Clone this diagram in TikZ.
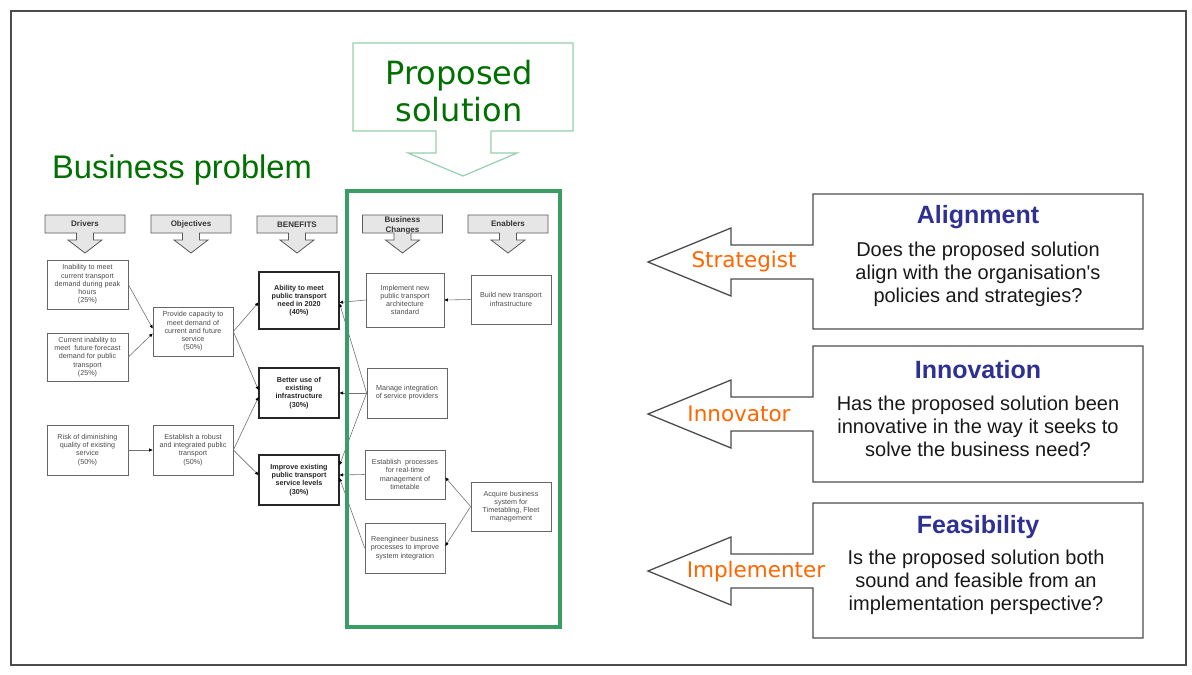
\documentclass[tikz,border=0pt]{standalone}
\usepackage{fontspec}
\setmainfont{Liberation Sans}
\newfontfamily\dejavu{DejaVu Sans}
\usetikzlibrary{arrows.meta,calc}
\definecolor{dkgreen}{RGB}{0,112,0}
\definecolor{boxgreen}{RGB}{58,158,100}
\definecolor{lightgreen}{RGB}{150,208,175}
\definecolor{navytitle}{RGB}{46,49,146}
\definecolor{rolered}{RGB}{255,102,0}
\definecolor{hdrgray}{RGB}{230,230,230}
\newcommand{\HdrShape}[2]{%
  \draw[hdrshape] ({#1-40},#2) -- ({#1+40},#2) -- ({#1+40},233) -- ({#1+8.5},233) -- ({#1+8.5},240) -- ({#1+17},240) -- (#1,253) -- ({#1-17},240) -- ({#1-8.5},240) -- ({#1-8.5},233) -- ({#1-40},233) -- cycle;}
\newcommand{\RoleShape}[3]{%
  \draw[roleshape] (813,#1) -- (1143,#1) -- (1143,#2) -- (813,#2) -- (813,{#3+17}) -- (731,{#3+17}) -- (731,{#3+34}) -- (648,#3) -- (731,{#3-34}) -- (731,{#3-17}) -- (813,{#3-17}) -- cycle;}
\begin{document}
\begin{tikzpicture}[x=1pt,y=-1pt,
  hdrshape/.style={draw=black!65, fill=hdrgray, line width=0.8pt},
  hdrtext/.style={inner sep=0pt, align=center, text=black!80, font=\bfseries\fontsize{8}{9}\selectfont},
  box/.style={draw=black!60, line width=0.7pt, fill=white, inner sep=0pt, align=center, text=black!70, font=\fontsize{7.2}{8.2}\selectfont},
  bbox/.style={box, draw=black!85, line width=1.1pt, text=black!85, font=\bfseries\fontsize{7.2}{8.2}\selectfont},
  conn/.style={draw=black!55, line width=0.6pt, -{Triangle[length=3.5pt,width=3pt,color=black]}},
  roleshape/.style={draw=black!70, line width=1.3pt, fill=white, line join=miter},
  roletitle/.style={inner sep=0pt, text=navytitle, font=\bfseries\fontsize{25}{28}\selectfont},
  rolebody/.style={inner sep=0pt, align=center, text=black!90, font=\fontsize{20}{23}\selectfont},
  rolelabel/.style={inner sep=0pt, text=rolered, font=\dejavu\fontsize{21.5}{24}\selectfont}
]
\useasboundingbox (0,0) rectangle (1192,675);
\fill[white] (0,0) rectangle (1192,675);
\draw[black!70, line width=1.2pt] (11,11) rectangle (1186,665);

% Titles
\node[inner sep=0pt, text=dkgreen, font=\fontsize{32.7}{36}\selectfont] (bp) at (182,170) {Business problem};
\draw[draw=lightgreen, line width=1.2pt, fill=white] (353,43) -- (573,43) -- (573,131) -- (491,131) -- (491,153) -- (517,153) -- (463,176) -- (408,153) -- (436,153) -- (436,131) -- (353,131) -- cycle;
\node[inner sep=0pt, align=center, text=dkgreen, font=\dejavu\fontsize{32}{37}\selectfont] (ps) at (459,91) {Proposed\\solution};

% Headers
\HdrShape{85}{215}
\HdrShape{191}{215}
\HdrShape{297}{216}
\HdrShape{402.5}{215}
\HdrShape{508}{215}
\node[hdrtext] (hD) at (85,224) {Drivers};
\node[hdrtext] (hO) at (191,224) {Objectives};
\node[hdrtext] (hB) at (297,225) {BENEFITS};
\node[hdrtext, font=\bfseries\fontsize{8}{10.5}\selectfont] (hC) at (402.5,225.5) {Business\\Changes};
\node[hdrtext] (hE) at (508,224) {Enablers};

% Boxes
\node[box, minimum width=81pt, minimum height=49pt] (D1) at (87.5,284.5) {Inability to meet\\current transport\\demand during peak\\hours\\(25\%)};
\node[box, minimum width=81pt, minimum height=48pt] (D2) at (87.5,357) {Current inability to\\meet~ future forecast\\demand for public\\transport\\(25\%)};
\node[box, minimum width=81pt, minimum height=50pt] (D3) at (87.5,450) {Risk of diminishing\\quality of existing\\service\\(50\%)};
\node[box, minimum width=80pt, minimum height=49pt] (O1) at (193,331.5) {Provide capacity to\\meet demand of\\current and future\\service\\(50\%)};
\node[box, minimum width=80pt, minimum height=50pt] (O2) at (193,450) {Establish a robust\\and integrated public\\transport\\(50\%)};
\node[bbox, minimum width=80pt, minimum height=57pt] (B1) at (299,300.5) {Ability to meet\\public transport\\need in 2020\\(40\%)};
\node[bbox, minimum width=80pt, minimum height=50pt] (B2) at (299,393) {Better use of\\existing\\infrastructure\\(30\%)};
\node[bbox, minimum width=80pt, minimum height=50pt] (B3) at (299,480) {Improve existing\\public transport\\service levels\\(30\%)};
\node[box, minimum width=78pt, minimum height=54pt] (C1) at (405,300) {Implement new\\public transport\\architecture\\standard};
\node[box, minimum width=80pt, minimum height=50pt] (C2) at (407,393) {Manage integration\\of service providers};
\node[box, minimum width=80pt, minimum height=49pt] (C3) at (405,474.5) {Establish~ processes\\for real-time\\management of\\timetable};
\node[box, minimum width=80pt, minimum height=50pt] (C4) at (405,548) {Reengineer business\\processes to improve\\system integration};
\node[box, minimum width=80pt, minimum height=49pt] (E1) at (511,299.5) {Build new transport\\infrastructure};
\node[box, minimum width=80pt, minimum height=49pt] (E2) at (511,506.5) {Acquire business\\system for\\Timetabling, Fleet\\management};

% Connectors
\draw[conn] (D1.east) -- ($(O1.west)+(0,-3)$);
\draw[conn] (D2.east) -- ($(O1.west)+(0,2)$);
\draw[conn] (D3.east) -- (O2.west);
\draw[conn] (O1.east) -- ($(B1.west)+(0,2)$);
\draw[conn] (O1.east) -- ($(B2.west)+(0,-3)$);
\draw[conn] (O2.east) -- ($(B2.west)+(0,4)$);
\draw[conn] (O2.east) -- ($(B3.west)+(0,-5)$);
\draw[conn] (C1.west) -- ($(B1.east)+(0,2)$);
\draw[conn] (C2.west) -- ($(B1.east)+(0,3)$);
\draw[conn] (C2.west) -- (B2.east);
\draw[conn] (C2.west) -- ($(B3.east)+(0,-15)$);
\draw[conn] (C3.west) -- ($(B3.east)+(0,-5)$);
\draw[conn] (C4.west) -- ($(B3.east)+(0,-2)$);
\draw[conn] (E1.west) -- ($(C1.east)+(0,0)$);
\draw[conn] (E2.west) -- ($(C3.east)+(0,3)$);
\draw[conn] (E2.west) -- ($(C4.east)+(0,-2)$);

% Green frame
\draw[boxgreen, line width=4.5pt] (347,191) rectangle (560,627);

% Right side
\RoleShape{194}{329}{262}
\RoleShape{346}{482}{414}
\RoleShape{503}{638}{571}
\node[roletitle] (t1) at (978,217) {Alignment};
\node[rolebody] (b1) at (978,274.5) {Does the proposed solution\\align with the organisation\textquotesingle s\\policies and strategies?};
\node[roletitle] (t2) at (978,370) {Innovation};
\node[rolebody] (b2) at (978,426) {Has the proposed solution been\\innovative in the way it seeks to\\solve the business need?};
\node[roletitle] (t3) at (978,527) {Feasibility};
\node[rolebody] (b3) at (976,582) {Is the proposed solution both\\sound and feasible from an\\implementation perspective?};
\node[rolelabel] (r1) at (744,262) {Strategist};
\node[rolelabel] (r2) at (739,414) {Innovator};
\node[rolelabel] (r3) at (756,572) {Implementer};
\end{tikzpicture}
\end{document}
